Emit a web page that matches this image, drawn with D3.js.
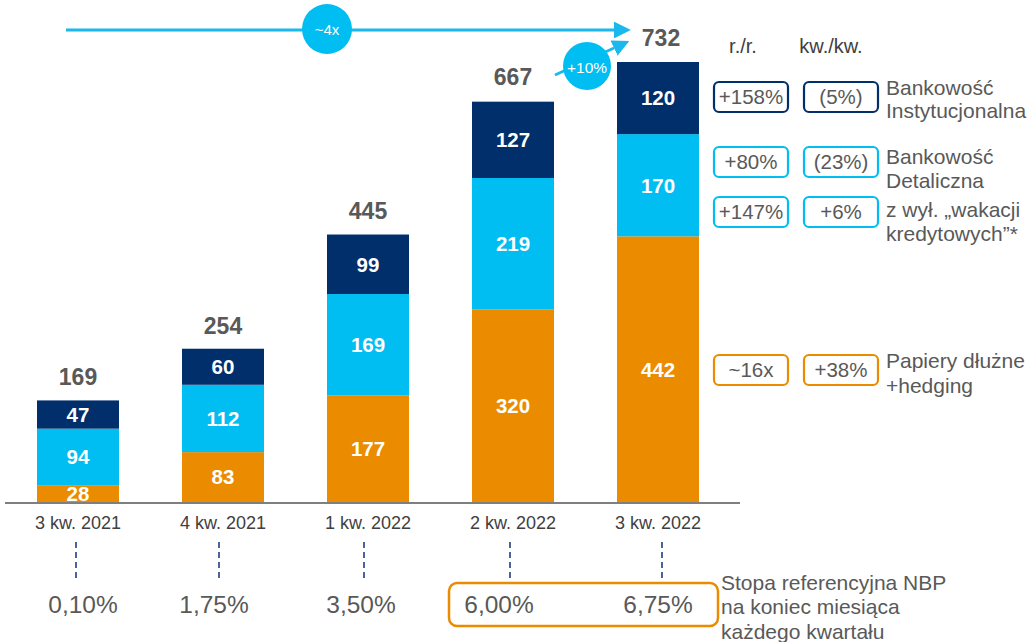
<!DOCTYPE html>
<html><head><meta charset="utf-8">
<script src="https://cdn.jsdelivr.net/npm/d3@7"></script>
<style>
html,body{margin:0;padding:0;background:#fff;}
text{font-family:"Liberation Sans",Arial,sans-serif;}
</style></head>
<body><svg id="c" width="1032" height="642"></svg>
<script>
const categories = ["3 kw. 2021","4 kw. 2021","1 kw. 2022","2 kw. 2022","3 kw. 2022"];
const debtSecurities = [28, 83, 177, 320, 442];
const retailBanking = [94, 112, 169, 219, 170];
const institutionalBanking = [47, 60, 99, 127, 120];
const totals = [169, 254, 445, 667, 732];
const refRates = ["0,10%","1,75%","3,50%","6,00%","6,75%"];
const seriesKeys = ["debt","retail","inst"];
const seriesColors = {debt:"#EB8C00", retail:"#00BDF2", inst:"#002F6C"};
const legendRows = [
  {key:"inst", yoy:"+158%", qoq:"(5%)", lines:["Bankowość","Instytucjonalna"]},
  {key:"retail", yoy:"+80%", qoq:"(23%)", lines:["Bankowość","Detaliczna"]},
  {key:"retail", yoy:"+147%", qoq:"+6%", lines:["z wył. „wakacji","kredytowych”*"]},
  {key:"debt", yoy:"~16x", qoq:"+38%", lines:["Papiery dłużne","+hedging"]}
];
const growthTotal = "~4x";
const growthQoQ = "+10%";
const rateNote = ["Stopa referencyjna NBP","na koniec miesiąca","każdego kwartału"];

const svg = d3.select("#c");
const grey = "#595959";
const p = 63/145;
const x = d3.scaleBand().domain(categories).range([5.5, 730.5]).paddingInner(p).paddingOuter(p/2);
const y = d3.scaleLinear().domain([0, 732]).range([502, 62]);

const table = categories.map((c,i)=>({cat:c, debt:debtSecurities[i], retail:retailBanking[i], inst:institutionalBanking[i], total:totals[i]}));
const stacked = d3.stack().keys(seriesKeys)(table);

const g = svg.append("g");
stacked.forEach(layer=>{
  g.selectAll(null).data(layer).join("rect")
    .attr("x", d=>x(d.data.cat)).attr("width", x.bandwidth())
    .attr("y", d=>y(d[1])).attr("height", d=>y(d[0])-y(d[1]))
    .attr("fill", seriesColors[layer.key]);
  g.selectAll(null).data(layer).join("text")
    .attr("x", d=>x(d.data.cat)+x.bandwidth()/2)
    .attr("y", d=>{const m=(y(d[0])+y(d[1]))/2; return Math.min(m, y(0)-7);})
    .attr("dy","0.36em").attr("text-anchor","middle")
    .attr("fill","#fff").attr("font-weight","bold").attr("font-size",20.5)
    .text(d=>d.data[layer.key]);
});

// totals
g.selectAll(null).data(table).join("text")
  .attr("x", d=>x(d.cat)+x.bandwidth()/2 + (d.cat===categories[4]?3:0))
  .attr("y", d=>y(d.total)-24).attr("dy","0.36em").attr("text-anchor","middle")
  .attr("fill",grey).attr("font-weight","bold").attr("font-size",23)
  .text(d=>d.total);

// baseline
svg.append("line").attr("x1",5).attr("x2",740).attr("y1",y(0)+1).attr("y2",y(0)+1)
  .attr("stroke","#7f7f7f").attr("stroke-width",2);

// x axis labels
const xAxis = d3.axisBottom(x).tickSize(0).tickPadding(0);
const ax = svg.append("g").attr("transform","translate(0,516)").call(xAxis);
ax.select(".domain").remove();
ax.selectAll("text").attr("font-size",18).attr("fill","#404040").attr("font-family","Liberation Sans, Arial, sans-serif");

// dashed lines
const dashOff = [-2,-4,-4,-3,4];
svg.selectAll(null).data(categories).join("line")
  .attr("x1",(d,i)=>x(d)+x.bandwidth()/2+dashOff[i]).attr("x2",(d,i)=>x(d)+x.bandwidth()/2+dashOff[i])
  .attr("y1",542).attr("y2",578).attr("stroke","#1F3F7F").attr("stroke-width",1.6)
  .attr("stroke-dasharray","6,4");

// rate box
svg.append("rect").attr("x",449).attr("y",583).attr("width",269).attr("height",43).attr("rx",8)
  .attr("fill","none").attr("stroke","#EB8C00").attr("stroke-width",2.5);
const rateOff = [5,-9,-7,-14,0];
svg.selectAll(null).data(refRates).join("text")
  .attr("x",(d,i)=>x(categories[i])+x.bandwidth()/2+rateOff[i]).attr("y",604).attr("dy","0.36em")
  .attr("text-anchor","middle").attr("font-size",24.5).attr("fill",grey).text(d=>d);
svg.selectAll(null).data(rateNote).join("text")
  .attr("x",721).attr("y",(d,i)=>582+i*24.5).attr("dy","0.36em")
  .attr("font-size",21).attr("fill",grey).text(d=>d);

// top arrow
const arrowBlue = "#1AB8EC";
svg.append("defs").append("marker").attr("id","ah").attr("viewBox","0 0 10 10")
  .attr("refX",0).attr("refY",5).attr("markerWidth",6).attr("markerHeight",6).attr("orient","auto")
  .attr("markerUnits","strokeWidth")
  .append("path").attr("d","M0,0 L10,5 L0,10 z").attr("fill",arrowBlue);
svg.append("line").attr("x1",66).attr("y1",30).attr("x2",614).attr("y2",30)
  .attr("stroke",arrowBlue).attr("stroke-width",2.8).attr("marker-end","url(#ah)");
svg.append("circle").attr("cx",327).attr("cy",29).attr("r",25).attr("fill","#00BDF2");
svg.append("text").attr("x",327).attr("y",30).attr("dy","0.36em").attr("text-anchor","middle")
  .attr("fill","#fff").attr("font-size",15).text(growthTotal);

svg.append("line").attr("x1",555).attr("y1",75).attr("x2",614).attr("y2",48)
  .attr("stroke",arrowBlue).attr("stroke-width",2.8).attr("marker-end","url(#ah)");
svg.append("circle").attr("cx",587).attr("cy",66).attr("r",24).attr("fill","#00BDF2");
svg.append("text").attr("x",587).attr("y",67).attr("dy","0.36em").attr("text-anchor","middle")
  .attr("fill","#fff").attr("font-size",15.5).text(growthQoQ);

// legend headers
svg.append("text").attr("x",743).attr("y",46).attr("dy","0.36em").attr("text-anchor","middle")
  .attr("font-size",20).attr("fill","#404040").text("r./r.");
svg.append("text").attr("x",831).attr("y",46).attr("dy","0.36em").attr("text-anchor","middle")
  .attr("font-size",20).attr("fill","#404040").text("kw./kw.");

const rowCenters = [97, 162, 212, 370];
const lineTops = [[87,110],[156,180],[209,233],[360,385]];
legendRows.forEach((r,i)=>{
  const cy = rowCenters[i];
  [[714,r.yoy],[804,r.qoq]].forEach(([bx,t])=>{
    svg.append("rect").attr("x",bx).attr("y",cy-15).attr("width",74).attr("height",30).attr("rx",5)
      .attr("fill","#fff").attr("stroke",seriesColors[r.key]).attr("stroke-width",2.2);
    svg.append("text").attr("x",bx+37).attr("y",cy).attr("dy","0.36em").attr("text-anchor","middle")
      .attr("font-size",20.5).attr("fill",grey).text(t);
  });
  r.lines.forEach((l,j)=>{
    svg.append("text").attr("x",886).attr("y",lineTops[i][j]).attr("dy","0.36em")
      .attr("font-size",21).attr("fill",grey).text(l);
  });
});
</script></body></html>
